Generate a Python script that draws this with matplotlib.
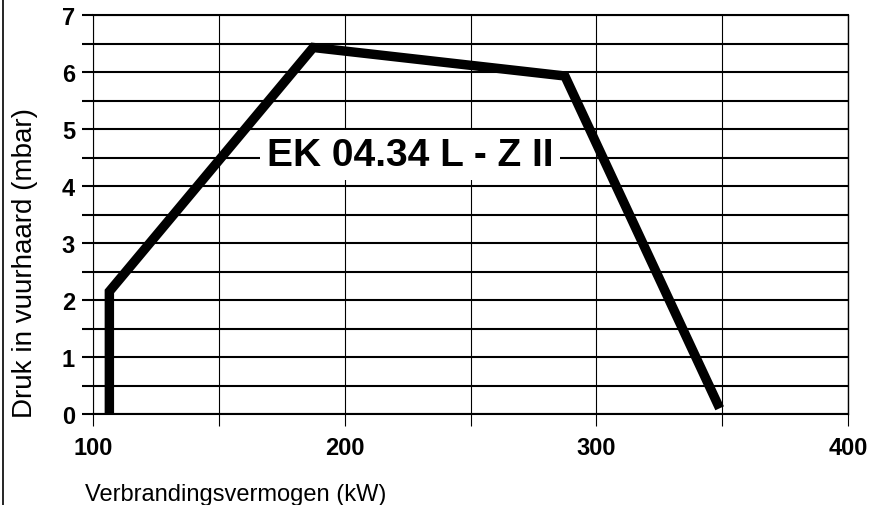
import matplotlib
matplotlib.use("Agg")
import matplotlib.pyplot as plt
from matplotlib.lines import Line2D
from matplotlib.ticker import MultipleLocator

# data
power = [106.5, 106.5, 187.5, 287.5, 349.0]      # kW
pressure = [0.0, 2.15, 6.43, 5.93, 0.10]         # mbar
x_ticks = [100, 200, 300, 400]
y_ticks = [0, 1, 2, 3, 4, 5, 6, 7]
title = "EK 04.34 L - Z II"
xlabel = "Verbrandingsvermogen (kW)"
ylabel = "Druk in vuurhaard (mbar)"

plt.rcParams['font.family'] = ['Liberation Sans', 'DejaVu Sans']

fig = plt.figure(figsize=(8.72, 5.06), dpi=100)
ax = fig.add_axes([93/872, 1 - 415/506, (848 - 93)/872, (415 - 16)/506])

ax.set_xlim(100, 400)
ax.set_ylim(0, 7)

# grid
ax.xaxis.set_major_locator(MultipleLocator(100))
ax.xaxis.set_minor_locator(MultipleLocator(50))
ax.yaxis.set_major_locator(MultipleLocator(1))
ax.yaxis.set_minor_locator(MultipleLocator(0.5))
ax.set_xticks(x_ticks)
ax.set_yticks(y_ticks)
ax.grid(True, axis='x', which='both', color='black', lw=0.8)
ax.grid(True, axis='y', which='both', color='black', lw=1.5)
ax.set_axisbelow(True)

ax.tick_params(axis='y', which='both', length=8, width=1.5, pad=5, direction='out')
ax.tick_params(axis='x', which='both', length=8.5, width=0.8, pad=7, direction='out')
for lab in ax.get_xticklabels() + ax.get_yticklabels():
    lab.set_fontsize(17)
    lab.set_fontweight('bold')

for side, w in [('left', 0.8), ('right', 1.0), ('top', 1.5), ('bottom', 1.5)]:
    ax.spines[side].set_linewidth(w)
    ax.spines[side].set_color('black')

# curve
ax.plot(power, pressure, color='black', lw=6.8,
        solid_joinstyle='miter', solid_capstyle='butt', zorder=5)

# title inside the plot
ax.text(226, 4.54, title, fontsize=28, fontweight='bold', ha='center', va='center',
        bbox=dict(facecolor='white', edgecolor='none', pad=5), zorder=4)

# axis labels
fig.text(85/872, 1 - 501/506, xlabel, fontsize=17, ha='left', va='baseline')
fig.text(32/872, 1 - 418/506, ylabel, fontsize=20, rotation=90,
         rotation_mode='anchor', ha='left', va='baseline')

# left frame line
fig.add_artist(Line2D([2.5/872, 2.5/872], [0, 1], color='black', lw=1.2))

plt.savefig("out.png", dpi=100)
plt.close(fig)
